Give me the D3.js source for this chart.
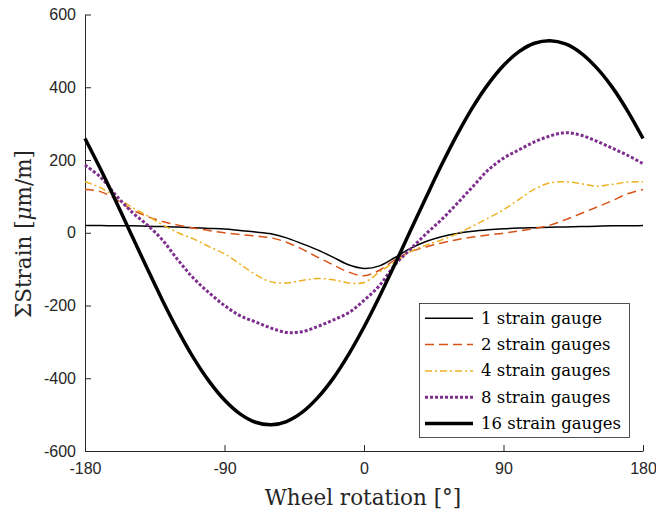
<!DOCTYPE html>
<html><head><meta charset="utf-8">
<script src="https://cdn.jsdelivr.net/npm/d3@7"></script>
<style>body{margin:0;background:#fff}svg{display:block}</style>
</head><body>
<svg id="c" width="656" height="512"></svg>
<script>
const angles = [-180,-170,-160,-150,-140,-130,-120,-110,-100,-90,-80,-70,-60,-50,-40,-30,-20,-10,0,10,20,30,40,50,60,70,80,90,100,110,120,130,140,150,160,170,180];
const gauge1  = [20,20,19,19,18,17,16,14,12,10,6,2,-3,-14,-30,-47,-67,-88,-98,-91,-68,-43,-24,-11,-2,4,8,11,13,14,15,16,17,18,19,19,20];
const gauge2  = [119,113,92,64,45,31,21,13,6,0,-5,-9,-14,-26,-45,-67,-88,-108,-118,-103,-74,-52,-39,-28,-19,-12,-6,-1,5,12,21,36,53,70,88,107,119];
const gauge4  = [140,124,98,71,47,22,0,-17,-38,-58,-86,-115,-135,-138,-131,-126,-129,-138,-137,-108,-80,-52,-34,-20,-3,18,40,63,92,120,137,140,135,128,133,139,140];
const gauge8  = [186,153,103,58,22,-20,-75,-125,-165,-200,-228,-245,-262,-274,-272,-258,-240,-220,-186,-145,-88,-45,-3,36,80,126,172,205,228,250,266,275,268,252,233,213,190];
const gauge16 = [259,175,86,-6,-97,-186,-269,-344,-408,-460,-498,-521,-528,-519,-494,-454,-401,-335,-259,-175,-86,6,97,186,269,344,408,460,498,521,528,519,494,454,401,335,259];
const seriesNames = ["1 strain gauge","2 strain gauges","4 strain gauges","8 strain gauges","16 strain gauges"];
const xTicks = [-180,-90,0,90,180];
const yTicks = [-600,-400,-200,0,200,400,600];

const series = [gauge1,gauge2,gauge4,gauge8,gauge16];
const styles = [
  {color:"#000000", width:1.5, dash:null},
  {color:"#D95319", width:1.5, dash:"9,5"},
  {color:"#EDB120", width:1.5, dash:"7,3,2,3"},
  {color:"#7E2F8E", width:3, dash:"3,2"},
  {color:"#000000", width:3.5, dash:null}
];

const svg = d3.select("#c");
const x = d3.scaleLinear().domain([-180,180]).range([85,643]);
const y = d3.scaleLinear().domain([-600,600]).range([451,14.5]);
const axisColor = "#262626";

const xa = svg.append("g").attr("transform","translate(0,451)")
  .call(d3.axisBottom(x).tickValues(xTicks).tickSizeInner(-6).tickSizeOuter(0).tickPadding(12).tickFormat(d3.format("d")));
const ya = svg.append("g").attr("transform","translate(85,0)")
  .call(d3.axisLeft(y).tickValues(yTicks).tickSizeInner(-6).tickSizeOuter(0).tickPadding(9).tickFormat(d3.format("d")));
[xa,ya].forEach(a=>{
  a.selectAll("path,line").attr("stroke",axisColor).attr("stroke-width",1);
  a.selectAll("text").attr("fill",axisColor).style("font-family","'Liberation Sans',Arial,sans-serif").style("font-size","16px");
});
svg.selectAll(".tick text").text(function(d){return String(d);});

const line = d3.line().x((d,i)=>x(angles[i])).y(d=>y(d)).curve(d3.curveCatmullRom.alpha(0.5));
series.forEach((s,k)=>{
  svg.append("path").datum(s).attr("d",line).attr("fill","none")
    .attr("stroke",styles[k].color).attr("stroke-width",styles[k].width)
    .attr("stroke-dasharray",styles[k].dash).attr("stroke-linejoin","round");
});

svg.append("text").attr("x",363).attr("y",505).attr("text-anchor","middle")
  .style("font-family","'DejaVu Serif',serif").style("font-size","21.5px").attr("fill",axisColor)
  .text("Wheel rotation [°]");
const yl = svg.append("text").attr("transform","translate(31,234) rotate(-90)").attr("text-anchor","middle")
  .style("font-family","'DejaVu Serif',serif").style("font-size","21.5px").attr("fill",axisColor);
yl.append("tspan").text("ΣStrain [");
yl.append("tspan").style("font-style","italic").text("μ");
yl.append("tspan").text("m/m]");

const lg = svg.append("g");
lg.append("rect").attr("x",419.5).attr("y",303.5).attr("width",210).attr("height",134)
  .attr("fill","#fff").attr("stroke",axisColor).attr("stroke-width",0.8);
seriesNames.forEach((n,k)=>{
  const cy = 318.3 + k*26.3;
  lg.append("line").attr("x1",425).attr("x2",473).attr("y1",cy).attr("y2",cy)
    .attr("stroke",styles[k].color).attr("stroke-width",styles[k].width).attr("stroke-dasharray",styles[k].dash);
  lg.append("text").attr("x",481).attr("y",cy+5.5)
    .style("font-family","'DejaVu Serif',serif").style("font-size","16.5px").attr("fill","#000").text(n);
});
</script>
</body></html>
